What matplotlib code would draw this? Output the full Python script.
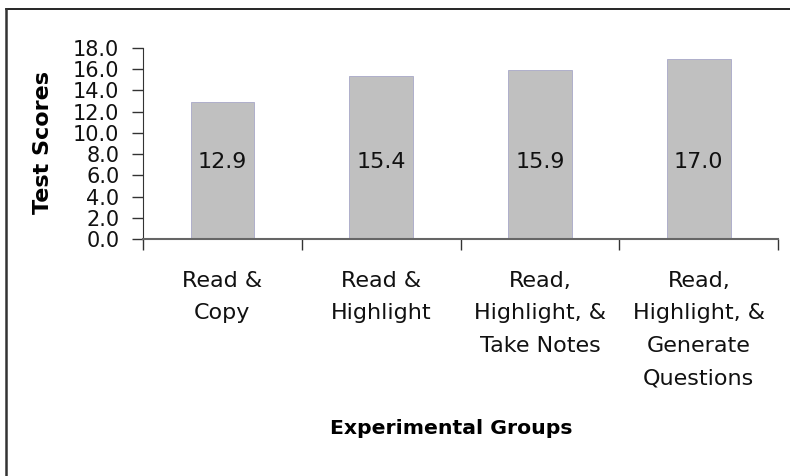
import numpy as np
from matplotlib import pyplot as plt
from matplotlib.lines import Line2D

groups = ["Read &\nCopy", "Read &\nHighlight", "Read,\nHighlight, &\nTake Notes",
          "Read,\nHighlight, &\nGenerate\nQuestions"]
scores = [12.9, 15.4, 15.9, 17.0]
y_ticks = [0, 2, 4, 6, 8, 10, 12, 14, 16, 18]

plt.rcParams['font.family'] = ['DejaVu Sans']

fig = plt.figure(figsize=(7.9, 4.76), dpi=100)
ax = fig.add_axes([0.181, 0.498, 0.804, 0.401])

x = np.arange(len(groups))
ax.bar(x, scores, width=0.4, color='#c0c0c0', edgecolor='#a8a8c8', linewidth=0.6)

# value labels all sit at the same height
for xi, v in zip(x, scores):
    ax.text(xi, 7.3, f"{v:.1f}", ha='center', va='center', fontsize=16, color='#111111')

ax.set_xlim(-0.5, len(groups) - 0.5)
ax.set_ylim(0, 18)
ax.set_yticks(y_ticks)
ax.set_yticklabels([f"{t:.1f}" for t in y_ticks], fontsize=15, color='#111111')
ax.tick_params(axis='y', direction='out', length=8, width=1, color='#333333', pad=9)

# category ticks sit between the groups
ax.set_xticks(np.arange(len(groups) + 1) - 0.5)
ax.set_xticklabels([])
ax.set_xticks(x, minor=True)
ax.set_xticklabels(groups, minor=True, fontsize=16, linespacing=1.78, color='#111111')
ax.tick_params(axis='x', which='major', direction='out', length=8, width=1, color='#333333')
ax.tick_params(axis='x', which='minor', length=0, pad=23)

for s in ['top', 'right']:
    ax.spines[s].set_visible(False)
ax.spines['left'].set_color('#333333')
ax.spines['bottom'].set_color('#666666')
ax.spines['bottom'].set_linewidth(1.5)

fig.text(0.055, 0.70, "Test Scores", rotation=90, ha='center', va='center',
         fontsize=16, fontweight='bold')
fig.text(0.571, 0.099, "Experimental Groups", ha='center', va='center',
         fontsize=14.7, fontweight='bold')

# partial outer frame (top and left only)
fig.add_artist(Line2D([0.0076, 1.0], [0.981, 0.981], color='black', lw=1.2))
fig.add_artist(Line2D([0.0076, 0.0076], [0.0, 0.981], color='#333333', lw=1.8))

fig.savefig("out.png", dpi=100)
